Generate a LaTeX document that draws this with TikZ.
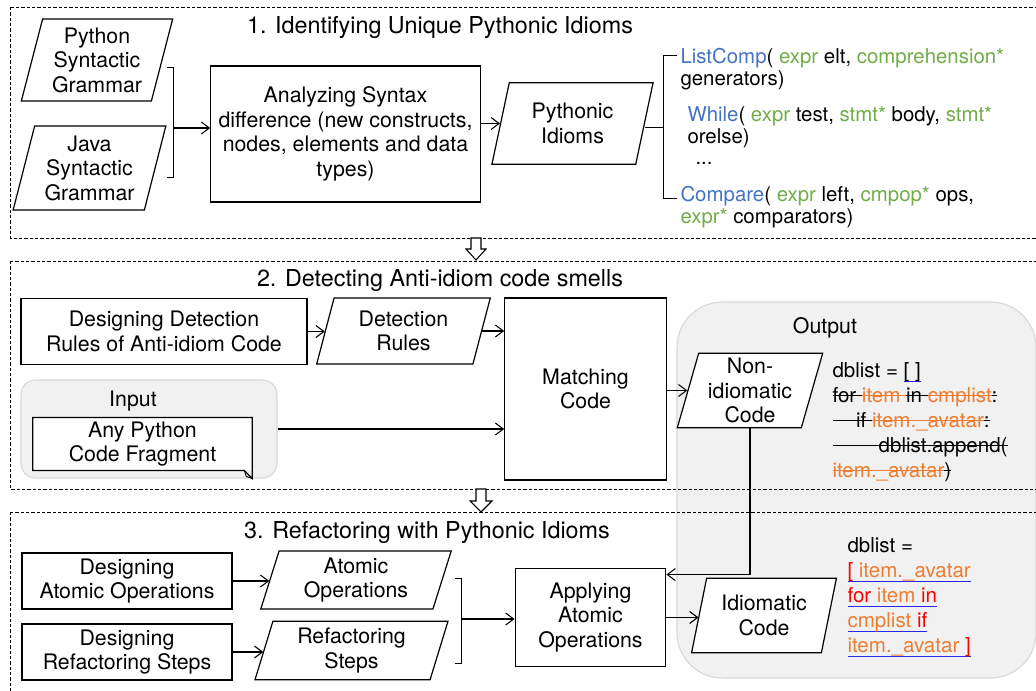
\documentclass[tikz,border=0pt]{standalone}
\usepackage{fontspec}
\setmainfont{TeX Gyre Heros}
\usetikzlibrary{shapes.geometric,arrows.meta,calc}

\definecolor{idblue}{RGB}{68,114,196}
\definecolor{idgreen}{RGB}{112,173,71}
\definecolor{idorange}{RGB}{237,125,49}
\definecolor{idred}{RGB}{255,0,0}
\definecolor{ulblue}{RGB}{40,40,230}
\definecolor{panelgray}{RGB}{241,241,241}
\definecolor{panelline}{RGB}{215,215,215}

\newsavebox{\codebox}
\newcommand{\strike}[1]{\sbox{\codebox}{#1}\rlap{\rule[0.3em]{\wd\codebox}{0.6pt}}\usebox{\codebox}}
\newcommand{\bluul}[1]{\sbox{\codebox}{#1}\rlap{\textcolor{ulblue}{\rule[-0.22em]{\wd\codebox}{0.7pt}}}\usebox{\codebox}}

\tikzset{every picture/.style={line width=0.75pt}}
\tikzset{
  procbox/.style={draw, fill=white, line width=0.9pt, align=center, inner sep=2pt},
  databox/.style={draw, fill=white, line width=0.9pt, align=center, inner sep=1pt,
    trapezium, trapezium left angle=75, trapezium right angle=105, trapezium stretches=true},
  panel/.style={draw=panelline, fill=panelgray, line width=0.8pt},
  secbox/.style={dash pattern=on 2.5pt off 1.5pt, line width=0.6pt},
  flow/.style={-{Straight Barb[length=6pt,width=9pt]}, line width=0.8pt},
  hollow/.style={draw, fill=white, line width=0.8pt},
  steptitle/.style={font=\fontsize{17.5}{21}\selectfont},
  astext/.style={align=left, inner sep=0pt, font=\fontsize{15.3}{16.5}\selectfont},
  codetext/.style={align=left, inner sep=0pt, font=\fontsize{15.4}{18.75}\selectfont},
}

\begin{document}
\begin{tikzpicture}[x=0.75pt,y=0.75pt,yscale=-1,xscale=1,
  every node/.style={font=\fontsize{16}{18.4}\selectfont}]
\useasboundingbox (0,0) rectangle (1036,691);

%Shape: Output panel
\draw [panel, rounded corners=34pt] (677,302) rectangle (1036,678);
%Shape: Input panel
\node [panel, rounded corners=11pt, minimum width=192pt, minimum height=73.5pt] (inbox) at (149,429) {};

%Shape: Dashed sections
\draw [secbox] (10,7) rectangle (1045,238);
\draw [secbox] (10,261) rectangle (1045,489);
\draw [secbox] (10,512) rectangle (1045,700);

%Shape: Hollow arrows between sections
\draw [hollow] (471,238) -- (481,238) -- (481,249) -- (486,249) -- (476,260) -- (466,249) -- (471,249) -- cycle;
\draw [hollow] (476,489) -- (486,489) -- (486,501) -- (492,501) -- (481,512) -- (470,501) -- (476,501) -- cycle;

% Text Node
\node [steptitle] (title1) at (440,28) {1. Identifying Unique Pythonic Idioms};
\node [steptitle] (title2) at (440,281) {2. Detecting Anti-idiom code smells};
\node [steptitle] (title3) at (427,533) {3. Refactoring with Pythonic Idioms};

%% step 1
\node [databox, minimum width=114pt, minimum height=61.5pt] (pygram) at (97,60) {Python\\Syntactic\\Grammar};
\node [databox, minimum width=115pt, minimum height=63pt] (javagram) at (89.5,168) {Java\\Syntactic\\Grammar};
\node [procbox, minimum width=202pt, minimum height=102pt] (analyze) at (345.5,134) {Analyzing Syntax\\difference (new constructs,\\nodes, elements and data\\types)};
\node [databox, minimum width=121pt, minimum height=61pt] (pyidioms) at (572.5,123.5) {Pythonic\\Idioms};

\node [astext, anchor=west] (listcomp) at (680,69) {\textcolor{idblue}{ListComp}( \textcolor{idgreen}{expr} elt, \textcolor{idgreen}{comprehension*}\\generators)};
\node [astext, anchor=west] (whileast) at (687,127.5) {\textcolor{idblue}{While}( \textcolor{idgreen}{expr} test, \textcolor{idgreen}{stmt*} body, \textcolor{idgreen}{stmt*}\\orelse)};
\node [astext, anchor=west] (moreast) at (695,163) {...};
\node [astext, anchor=west] (compare) at (680,207) {\textcolor{idblue}{Compare}( \textcolor{idgreen}{expr} left, \textcolor{idgreen}{cmpop*} ops,\\\textcolor{idgreen}{expr*} comparators)};

%Straight Lines
\coordinate (brin) at (173,128);
\draw (167,68) -- (173,68) -- (173,178) -- (167,178);
\draw [flow] (brin) -- (brin -| analyze.west);
\draw [flow] (analyze.east |- pyidioms.west) -- (pyidioms.west);
\coordinate (brout) at (663,128);
\draw (brout -| pyidioms.east) -- (brout);
\draw (677,56) -- (663,56) -- (663,199) -- (677,199);

%% step 2
\node [procbox, minimum width=214.5pt, minimum height=50pt] (designdet) at (164,331.5) {Designing Detection\\Rules of Anti-idiom Code};
\node [databox, minimum width=131pt, minimum height=49.5pt] (detrules) at (403.5,331) {Detection\\Rules};
\node [procbox, minimum width=121pt, minimum height=136.5pt] (matching) at (585.5,389) {Matching\\Code};
\node (inlabel) at (133,401) {Input};
\node [fill=white, minimum width=164pt, minimum height=39pt, align=center, inner sep=0pt] (frag) at (142.5,444) {Any Python\\Code Fragment};
\draw [line width=0.9pt] (frag.north west) -- (frag.north east) -- ([yshift=6pt]frag.south east) -- ([xshift=-6pt]frag.south east) -- (frag.south west) -- cycle;
\draw [line width=0.7pt] ([xshift=-6pt]frag.south east) -- ([xshift=-4.5pt,yshift=4.5pt]frag.south east) -- ([yshift=6pt]frag.south east);
\node (outlabel) at (825,328) {Output};
\node [databox, minimum width=109.5pt, minimum height=56pt] (nonidio) at (750,390.5) {Non-\\idiomatic\\Code};
\node [codetext, anchor=west] (nicode) at (832,422) {dblist = \bluul{[ ]}\\
\strike{for }\textcolor{idorange}{\strike{item }}\strike{in }\textcolor{idorange}{\strike{cmplist}}\strike{:}\\
\strike{\hspace*{1.15em}if }\textcolor{idorange}{\strike{item.\_avatar}}\strike{:}\\
\strike{\hspace*{2.25em}dblist.append(}\\
\textcolor{idorange}{\strike{item.\_avatar}}\strike{)}};

%Straight Lines
\draw [flow] (designdet.east) -- (designdet.east -| detrules.west);
\draw [flow] (detrules.east) -- (detrules.east -| matching.west);
\draw [flow] (inbox.east) -- (inbox.east -| matching.west);
\draw [flow] (matching.east |- nonidio.west) -- (nonidio.west);

%% step 3
\node [procbox, minimum width=157.5pt, minimum height=42pt] (designatom) at (127,581) {Designing\\Atomic Operations};
\node [procbox, minimum width=157.5pt, minimum height=42pt] (designref) at (127,652) {Designing\\Refactoring Steps};
\node [databox, minimum width=144pt, minimum height=43.5pt] (atomops) at (356,580) {Atomic\\Operations};
\node [databox, minimum width=145pt, minimum height=44pt] (refsteps) at (351.5,650.5) {Refactoring\\Steps};
\node [procbox, minimum width=113pt, minimum height=74pt] (applying) at (590.5,617.5) {Applying\\Atomic\\Operations};
\node [databox, minimum width=109.5pt, minimum height=56pt] (idiomcode) at (764,615.5) {Idiomatic\\Code};
\node [codetext, anchor=west] (icode) at (847,597.5) {dblist =\\
\bluul{\textcolor{idred}{[} \textcolor{idorange}{item.\_avatar}}\\
\bluul{\textcolor{idred}{for} \textcolor{idorange}{item} \textcolor{idred}{in}}\\
\bluul{\textcolor{idorange}{cmplist} \textcolor{idred}{if}}\\
\bluul{\textcolor{idorange}{item.\_avatar} \textcolor{idred}{]}}};

%Straight Lines
\draw [flow] (designatom.east) -- (designatom.east -| atomops.west);
\draw [flow] (designref.east) -- (designref.east -| refsteps.west);
\coordinate (brops) at (461,619);
\draw (455,579) -- (461,579) -- (461,663) -- (455,663);
\draw [flow] (brops) -- (brops -| applying.west);
\draw [flow] (applying.east) -- (applying.east -| idiomcode.west);
\draw [flow] (nonidio.south) |- ($(applying.north east)+(0,7)$);

\end{tikzpicture}
\end{document}
